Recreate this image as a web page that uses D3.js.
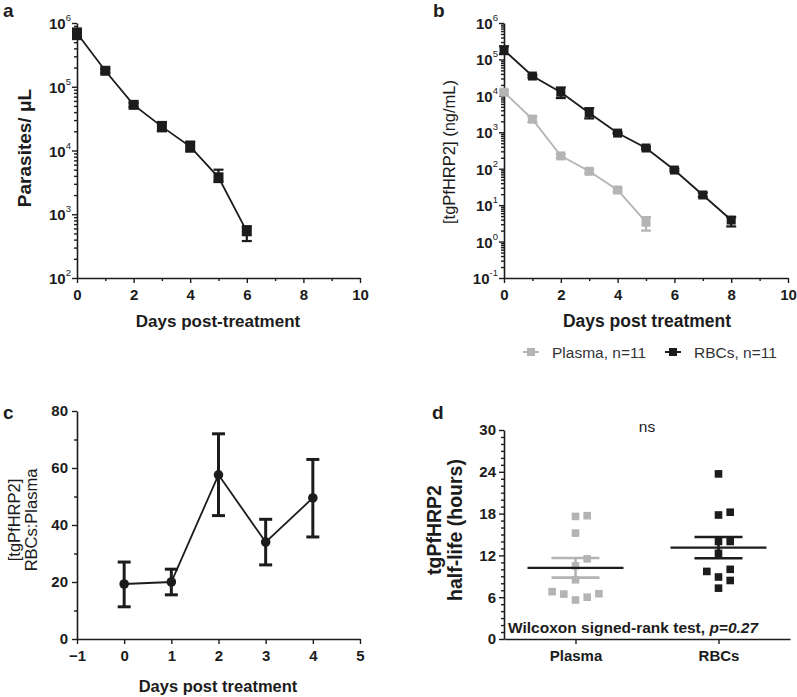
<!DOCTYPE html>
<html>
<head>
<meta charset="utf-8">
<script src="https://cdn.jsdelivr.net/npm/d3@7"></script>
<style>
  body { margin: 0; background: #fff; }
  svg { font-family: "Liberation Sans", Arial, sans-serif; }
</style>
</head>
<body>
<svg id="chart" width="797" height="697"></svg>
<script>
// Panel a: parasitaemia
const parasiteDays = [0, 1, 2, 3, 4, 5, 6];
const parasiteMean = [6.9e5, 1.78e5, 5.2e4, 2.37e4, 1.15e4, 3.8e3, 540];
const parasiteHi = [8.2e5, 1.9e5, 5.6e4, 2.8e4, 1.38e4, 5.0e3, 650];
const parasiteLo = [5.6e5, 1.65e5, 4.8e4, 2.0e4, 9.6e3, 3.2e3, 380];

// Panel b: tgPfHRP2 concentration
const rbcDays = [0, 1, 2, 3, 4, 5, 6, 7, 8];
const rbcMean = [1.8e5, 3.5e4, 1.26e4, 3.4e3, 950, 370, 92, 19, 3.9];
const rbcHi = [2.3e5, 3.8e4, 1.7e4, 4.6e3, 1.0e3, 400, 100, 22, 4.7];
const rbcLo = [1.4e5, 3.2e4, 8.7e3, 2.4e3, 900, 340, 85, 17, 2.6];
const plasmaDays = [0, 1, 2, 3, 4, 5];
const plasmaMean = [1.26e4, 2.3e3, 225, 85, 26, 3.4];
const plasmaHi = [1.4e4, 2.7e3, 250, 95, 29, 4.7];
const plasmaLo = [1.1e4, 1.9e3, 200, 75, 23, 2.0];

// Panel c: RBCs:Plasma ratio
const ratioDays = [0, 1, 2, 3, 4];
const ratioMean = [19.3, 20, 57.6, 34, 49.5];
const ratioHi = [27, 24.5, 72, 42, 63];
const ratioLo = [11.3, 15.5, 43.3, 26, 35.8];

// Panel d: half-lives (hours)
const groups = ['Plasma', 'RBCs'];
const plasmaHalfLife = [17.6, 17.7, 15.2, 11.5, 10.5, 8.5, 6.8, 6.45, 5.6, 6.0, 6.5];
const rbcHalfLife = [23.7, 17.8, 18.2, 14.0, 14.0, 12.3, 10.0, 9.7, 8.9, 8.4, 7.3];

const dayTicks = [0, 2, 4, 6, 8, 10];
const dayMinor = [1, 3, 5, 7, 9];

const BLACK = '#1c1c1c';
const GREY = '#b4b4b4';
const svg = d3.select('#chart');

function styleAxis(g) {
  g.selectAll('path.domain').attr('stroke', BLACK).attr('stroke-width', 1.6);
  g.selectAll('.tick line').attr('stroke', BLACK).attr('stroke-width', 1.4);
  g.selectAll('.tick text')
    .attr('fill', BLACK)
    .style('font-size', '15px')
    .style('font-weight', 'bold');
}

function minorAxis(axis, vals, size, transform) {
  const g = svg.append('g').attr('transform', transform)
    .call(axis.tickValues(vals).tickFormat('').tickSize(size).tickSizeOuter(0));
  g.select('path.domain').remove();
  styleAxis(g);
}

function logAxis(y, x0, lo, hi) {
  const majors = d3.range(lo, hi + 1).map(e => Math.pow(10, e));
  const minors = [];
  d3.range(lo, hi).forEach(e => {
    for (let k = 2; k <= 9; k++) minors.push(k * Math.pow(10, e));
  });
  const g = svg.append('g').attr('transform', `translate(${x0},0)`)
    .call(d3.axisLeft(y).tickValues(majors).tickFormat('').tickSize(5).tickSizeOuter(0));
  styleAxis(g);
  minorAxis(d3.axisLeft(y), minors, 3, `translate(${x0},0)`);

  // 10^n labels
  majors.forEach(v => {
    const t = svg.append('text')
      .attr('x', x0 - 6)
      .attr('y', y(v) + 6)
      .attr('text-anchor', 'end')
      .attr('fill', BLACK)
      .style('font-size', '15px')
      .style('font-weight', 'bold');
    t.append('tspan').text('10');
    t.append('tspan').attr('dy', '-8').style('font-size', '9.5px').style('font-weight', 'normal')
      .text(Math.round(Math.log10(v)));
  });
}

function dayAxis(x, y0) {
  const g = svg.append('g').attr('transform', `translate(0,${y0})`)
    .call(d3.axisBottom(x).tickValues(dayTicks).tickSize(5).tickSizeOuter(0).tickPadding(6));
  styleAxis(g);
  minorAxis(d3.axisBottom(x), dayMinor, 3, `translate(0,${y0})`);
}

function errorBars(x, y, days, hi, lo, color, cap, width) {
  days.forEach((d, i) => {
    const g = svg.append('g').attr('stroke', color).attr('stroke-width', width);
    g.append('line').attr('x1', x(d)).attr('x2', x(d)).attr('y1', y(hi[i])).attr('y2', y(lo[i]));
    g.append('line').attr('x1', x(d) - cap / 2).attr('x2', x(d) + cap / 2).attr('y1', y(hi[i])).attr('y2', y(hi[i]));
    g.append('line').attr('x1', x(d) - cap / 2).attr('x2', x(d) + cap / 2).attr('y1', y(lo[i])).attr('y2', y(lo[i]));
  });
}

function series(x, y, days, vals, color, size) {
  const pts = days.map((d, i) => [d, vals[i]]);
  svg.append('path')
    .datum(pts)
    .attr('fill', 'none')
    .attr('stroke', color)
    .attr('stroke-width', 1.8)
    .attr('d', d3.line().x(p => x(p[0])).y(p => y(p[1])));
  svg.append('g').selectAll('rect')
    .data(pts)
    .join('rect')
    .attr('x', p => x(p[0]) - size / 2)
    .attr('y', p => y(p[1]) - size / 2)
    .attr('width', size)
    .attr('height', size)
    .attr('fill', color);
}

function label(text, x, y, opts = {}) {
  return svg.append('text')
    .attr('x', x).attr('y', y)
    .attr('text-anchor', opts.anchor || 'middle')
    .attr('fill', opts.fill || BLACK)
    .attr('transform', opts.rotate ? `rotate(-90,${x},${y})` : null)
    .style('font-size', (opts.size || 14) + 'px')
    .style('font-weight', opts.bold === false ? 'normal' : 'bold')
    .text(text);
}

// ---------- Panel a ----------
{
  const x = d3.scaleLinear().domain([0, 10]).range([77, 360]);
  const y = d3.scaleLog().domain([1e2, 1e6]).range([278, 23]);
  logAxis(y, 77, 2, 6);
  dayAxis(x, 278);
  errorBars(x, y, parasiteDays, parasiteHi, parasiteLo, BLACK, 10, 2.2);
  series(x, y, parasiteDays, parasiteMean, BLACK, 10);
  label('a', 3, 17, { anchor: 'start', size: 19 });
  label('Parasites/ \u03bcL', 31, 148, { rotate: true, size: 19 });
  label('Days post-treatment', 218, 327, { size: 17 });
}

// ---------- Panel b ----------
{
  const x = d3.scaleLinear().domain([0, 10]).range([504, 788]);
  const y = d3.scaleLog().domain([1e-1, 1e6]).range([278, 23]);
  logAxis(y, 504, -1, 6);
  dayAxis(x, 278);
  errorBars(x, y, plasmaDays, plasmaHi, plasmaLo, GREY, 10, 2.2);
  series(x, y, plasmaDays, plasmaMean, GREY, 9);
  errorBars(x, y, rbcDays, rbcHi, rbcLo, BLACK, 10, 2.2);
  series(x, y, rbcDays, rbcMean, BLACK, 9);
  label('b', 433, 17, { anchor: 'start', size: 19 });
  label('[tgPfHRP2] (ng/mL)', 455, 152, { rotate: true, size: 16.5, bold: false });
  label('Days post treatment', 647, 327, { size: 17.5 });

  // legend
  const legend = [
    { name: 'Plasma, n=11', color: GREY, x: 523 },
    { name: 'RBCs, n=11', color: BLACK, x: 665 }
  ];
  legend.forEach(l => {
    svg.append('line').attr('x1', l.x).attr('x2', l.x + 16).attr('y1', 352).attr('y2', 352)
      .attr('stroke', l.color).attr('stroke-width', 2);
    svg.append('rect').attr('x', l.x + 4).attr('y', 348).attr('width', 8).attr('height', 8)
      .attr('fill', l.color);
    label(l.name, l.x + 29, 358, { anchor: 'start', size: 15.5, bold: false, fill: '#333' });
  });
}

// ---------- Panel c ----------
{
  const x = d3.scaleLinear().domain([-1, 5]).range([77, 360]);
  const y = d3.scaleLinear().domain([0, 80]).range([639, 411]);
  const gy = svg.append('g').attr('transform', 'translate(77,0)')
    .call(d3.axisLeft(y).tickValues([0, 20, 40, 60, 80]).tickSize(5).tickSizeOuter(0).tickPadding(4));
  styleAxis(gy);
  minorAxis(d3.axisLeft(y), [10, 30, 50, 70], 3, 'translate(77,0)');
  const gx = svg.append('g').attr('transform', 'translate(0,639)')
    .call(d3.axisBottom(x).tickValues(d3.range(-1, 6)).tickFormat(d3.format('d'))
      .tickSize(5).tickSizeOuter(0).tickPadding(6));
  styleAxis(gx);

  errorBars(x, y, ratioDays, ratioHi, ratioLo, BLACK, 13, 3);
  const pts = ratioDays.map((d, i) => [d, ratioMean[i]]);
  svg.append('path').datum(pts)
    .attr('fill', 'none').attr('stroke', BLACK).attr('stroke-width', 1.8)
    .attr('d', d3.line().x(p => x(p[0])).y(p => y(p[1])));
  svg.append('g').selectAll('circle').data(pts).join('circle')
    .attr('cx', p => x(p[0])).attr('cy', p => y(p[1])).attr('r', 4.8).attr('fill', BLACK);

  label('c', 3, 419, { anchor: 'start', size: 19 });
  label('[tgPfHRP2]', 20, 520, { rotate: true, size: 16.5, bold: false });
  label('RBCs:Plasma', 37, 520, { rotate: true, size: 16.5, bold: false });
  label('Days post treatment', 218, 692, { size: 16.5 });
}

// ---------- Panel d ----------
{
  const x = d3.scalePoint().domain(groups).range([504, 790]).padding(0.5);
  const y = d3.scaleLinear().domain([0, 30]).range([639, 430]);
  const gy = svg.append('g').attr('transform', 'translate(504,0)')
    .call(d3.axisLeft(y).tickValues([0, 6, 12, 18, 24, 30]).tickSize(5).tickSizeOuter(0).tickPadding(3));
  styleAxis(gy);
  minorAxis(d3.axisLeft(y), d3.range(0, 31).filter(v => v % 6), 3, 'translate(504,0)');
  const gx = svg.append('g').attr('transform', 'translate(0,639)')
    .call(d3.axisBottom(x).tickSize(5).tickSizeOuter(0).tickPadding(6));
  styleAxis(gx);

  // simple dodge of overlapping squares into side-by-side slots
  function dodge(values, step, gap) {
    const order = d3.range(values.length).sort((a, b) => values[a] - values[b]);
    const slots = [0, 1, -1, 2, -2, 3, -3];
    const placed = [];
    const out = [];
    order.forEach(i => {
      const py = y(values[i]);
      const s = slots.find(s => !placed.some(p => p.s === s && Math.abs(p.py - py) < gap));
      placed.push({ s, py });
      out[i] = s * step;
    });
    return out;
  }

  const sets = [
    { name: 'Plasma', vals: plasmaHalfLife, color: GREY, sem: GREY },
    { name: 'RBCs', vals: rbcHalfLife, color: BLACK, sem: BLACK }
  ];
  sets.forEach(s => {
    const cx = x(s.name);
    const mean = d3.mean(s.vals);
    const se = d3.deviation(s.vals) / Math.sqrt(s.vals.length);
    const offs = dodge(s.vals, 11.7, 10);
    svg.append('g').selectAll('rect').data(s.vals).join('rect')
      .attr('x', (v, i) => cx + offs[i] - 3.8)
      .attr('y', v => y(v) - 3.8)
      .attr('width', 7.6).attr('height', 7.6)
      .attr('fill', s.color);
    const g = svg.append('g').attr('stroke', s.sem).attr('stroke-width', 2.6);
    g.append('line').attr('x1', cx).attr('x2', cx).attr('y1', y(mean + se)).attr('y2', y(mean - se));
    [mean + se, mean - se].forEach(v => {
      g.append('line').attr('x1', cx - 24).attr('x2', cx + 24).attr('y1', y(v)).attr('y2', y(v));
    });
    svg.append('line').attr('x1', cx - 48).attr('x2', cx + 48)
      .attr('y1', y(mean)).attr('y2', y(mean))
      .attr('stroke', BLACK).attr('stroke-width', 2.2);
  });

  label('d', 432, 419, { anchor: 'start', size: 19 });
  label('tgPfHRP2', 441, 530, { rotate: true, size: 19.5 });
  label('half-life (hours)', 462, 530, { rotate: true, size: 19.5 });
  label('ns', 647, 432, { size: 15.5, bold: false });
  const w = label('Wilcoxon signed-rank test, ', 508, 633, { anchor: 'start', size: 15.5 });
  w.append('tspan').style('font-style', 'italic').text('p=0.27');
}
</script>
</body>
</html>
